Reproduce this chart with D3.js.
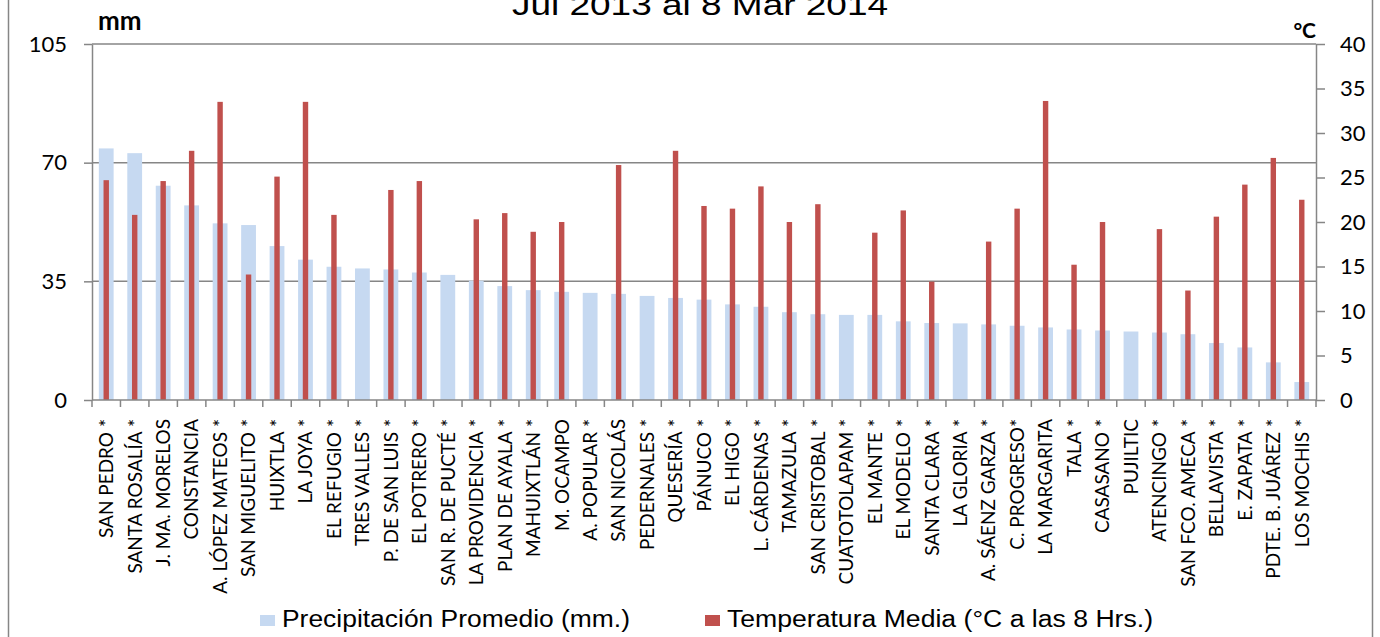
<!DOCTYPE html>
<html>
<head>
<meta charset="utf-8">
<script src="https://cdn.jsdelivr.net/npm/d3@7"></script>
<style>
  body { margin: 0; background: #fff; }
  svg { display: block; }
</style>
</head>
<body>
<script>
var w = 1380;
var h = 637;

var estaciones = ["SAN PEDRO *", "SANTA ROSALÍA *", "J. MA. MORELOS", "CONSTANCIA", "A. LÓPEZ MATEOS *",
  "SAN MIGUELITO *", "HUIXTLA *", "LA JOYA *", "EL REFUGIO *", "TRES VALLES *", "P. DE SAN LUIS *",
  "EL POTRERO *", "SAN R. DE PUCTÉ *", "LA PROVIDENCIA *", "PLAN DE AYALA *", "MAHUIXTLÁN *",
  "M. OCAMPO", "A. POPULAR *", "SAN NICOLÁS", "PEDERNALES *", "QUESERÍA *", "PÁNUCO *", "EL HIGO *",
  "L. CÁRDENAS *", "TAMAZULA *", "SAN CRISTOBAL *", "CUATOTOLAPAM *", "EL MANTE *", "EL MODELO *",
  "SANTA CLARA *", "LA GLORIA *", "A. SÁENZ GARZA *", "C. PROGRESO*", "LA MARGARITA", "TALA *",
  "CASASANO *", "PUJILTIC", "ATENCINGO *", "SAN FCO. AMECA *", "BELLAVISTA *", "E. ZAPATA *",
  "PDTE. B. JUÁREZ *", "LOS MOCHIS *"];

// precipitacion promedio (mm)
var precipitacion = [74.2, 72.8, 63.2, 57.4, 52.1, 51.6, 45.4, 41.4, 39.3, 38.8, 38.5,
  37.6, 36.9, 35.2, 33.6, 32.4, 31.9, 31.6, 31.3, 30.7, 30.1, 29.6, 28.2,
  27.5, 25.9, 25.3, 25.1, 25.1, 23.2, 22.7, 22.6, 22.3, 21.9, 21.4, 20.8,
  20.5, 20.2, 19.9, 19.4, 16.8, 15.5, 11.1, 5.3];

// temperatura media a las 8 hrs (null = sin dato)
var temperatura = [24.7, 20.8, 24.6, 28.0, 33.5, 14.1, 25.1, 33.5, 20.8, null, 23.6,
  24.6, null, 20.3, 21.0, 18.9, 20.0, null, 26.4, null, 28.0, 21.8, 21.5,
  24.0, 20.0, 22.0, null, 18.8, 21.3, 13.3, null, 17.8, 21.5, 33.6, 15.2,
  20.0, null, 19.2, 12.3, 20.6, 24.2, 27.2, 22.5];

var ticksMm = [0, 35, 70, 105];
var ticksC = [0, 5, 10, 15, 20, 25, 30, 35, 40];

var mLeft = 92, mRight = 1316, mTop = 44, mBottom = 400;
var colorPrec = "#C6D9F1";
var colorTemp = "#C0504D";
var ejeColor = "#868686";

var svg = d3.select("body").append("svg")
  .attr("width", w)
  .attr("height", h);

// borde del area del grafico
svg.append("rect")
  .attr("x", 8.5).attr("y", -2)
  .attr("width", 1364).attr("height", h + 4)
  .attr("fill", "none")
  .attr("stroke", ejeColor)
  .attr("stroke-width", 1.5);

var xScale = d3.scaleBand()
  .domain(estaciones)
  .range([mLeft, mRight]);

var yMm = d3.scaleLinear().domain([0, 105]).range([mBottom, mTop]);
var yC = d3.scaleLinear().domain([0, 40]).range([mBottom, mTop]);

// lineas de division
svg.append("g")
  .selectAll("line")
  .data(ticksMm.slice(1))
  .enter()
  .append("line")
  .attr("x1", mLeft).attr("x2", mRight)
  .attr("y1", function(d) { return yMm(d); })
  .attr("y2", function(d) { return yMm(d); })
  .attr("stroke", ejeColor)
  .attr("stroke-width", 1.5);

var bw = xScale.bandwidth();

// barras de precipitacion
svg.append("g")
  .selectAll("rect")
  .data(precipitacion)
  .enter()
  .append("rect")
  .attr("x", function(d, i) { return xScale(estaciones[i]) + bw * 0.24; })
  .attr("y", function(d) { return yMm(d); })
  .attr("width", bw * 0.52)
  .attr("height", function(d) { return mBottom - yMm(d); })
  .attr("fill", colorPrec);

// barras de temperatura (solo estaciones con dato)
var datosTemp = temperatura
  .map(function(t, i) { return { estacion: estaciones[i], valor: t }; })
  .filter(function(d) { return d.valor != null; });

svg.append("g")
  .selectAll("rect")
  .data(datosTemp)
  .enter()
  .append("rect")
  .attr("x", function(d) { return xScale(d.estacion) + bw * 0.5 - bw * 0.095; })
  .attr("y", function(d) { return yC(d.valor); })
  .attr("width", bw * 0.19)
  .attr("height", function(d) { return mBottom - yC(d.valor); })
  .attr("fill", colorTemp);

// ejes
function estiloEje(g) {
  g.selectAll("path").attr("stroke", ejeColor).attr("stroke-width", 1.5);
  g.selectAll("line").attr("stroke", ejeColor).attr("stroke-width", 1.5);
  g.selectAll("text")
    .attr("fill", "#000")
    .attr("font-family", "Lato, 'Open Sans', sans-serif");
}

svg.append("g")
  .attr("transform", "translate(" + mLeft + ",0)")
  .call(d3.axisLeft(yMm).tickValues(ticksMm).tickSize(8).tickSizeOuter(0).tickPadding(17))
  .call(estiloEje)
  .selectAll("text").attr("font-size", "22px");

svg.append("g")
  .attr("transform", "translate(" + mRight + ",0)")
  .call(d3.axisRight(yC).tickValues(ticksC).tickSize(9).tickSizeOuter(0).tickPadding(15))
  .call(estiloEje)
  .selectAll("text").attr("font-size", "22px");

// eje x con marcas en los limites de cada categoria
var ejeX = svg.append("g")
  .attr("transform", "translate(0," + mBottom + ")");
ejeX.append("line")
  .attr("x1", mLeft).attr("x2", mRight)
  .attr("stroke", ejeColor).attr("stroke-width", 1.5);
ejeX.selectAll(".marca")
  .data(estaciones)
  .enter()
  .append("line")
  .attr("class", "marca")
  .attr("x1", function(d) { return xScale(d) + bw; })
  .attr("x2", function(d) { return xScale(d) + bw; })
  .attr("y1", 0).attr("y2", 7)
  .attr("stroke", ejeColor).attr("stroke-width", 1.5);
ejeX.append("line")
  .attr("x1", mLeft).attr("x2", mLeft)
  .attr("y1", 0).attr("y2", 7)
  .attr("stroke", ejeColor).attr("stroke-width", 1.5);

ejeX.selectAll("text")
  .data(estaciones)
  .enter()
  .append("text")
  .text(function(d) { return d; })
  .attr("transform", function(d) {
    return "translate(" + (xScale(d) + bw / 2) + ",19) rotate(-90)";
  })
  .attr("text-anchor", "end")
  .attr("dy", "0.36em")
  .attr("font-family", "Lato, 'Open Sans', sans-serif")
  .attr("font-size", "19px")
  .attr("fill", "#000");

// titulos
svg.append("text")
  .text("Jul 2013 al 8 Mar 2014")
  .attr("x", 512).attr("y", 15)
  .attr("textLength", 376)
  .attr("lengthAdjust", "spacingAndGlyphs")
  .attr("font-family", "'Liberation Sans', Arial, sans-serif")
  .attr("font-size", "30px")
  .attr("fill", "#000");

svg.append("text")
  .text("mm")
  .attr("x", 98).attr("y", 30)
  .attr("font-family", "Lato, sans-serif")
  .attr("font-weight", "bold")
  .attr("font-size", "26px")
  .attr("fill", "#000");

svg.append("text")
  .text("°C")
  .attr("x", 1316).attr("y", 38)
  .attr("text-anchor", "end")
  .attr("font-family", "Lato, sans-serif")
  .attr("font-weight", "bold")
  .attr("font-size", "21px")
  .attr("fill", "#000");

// leyenda
var leyenda = [
  { nombre: "Precipitación Promedio (mm.)", color: colorPrec, x: 260, largo: 348 },
  { nombre: "Temperatura Media (°C a las 8 Hrs.)", color: colorTemp, x: 705, largo: 426 }
];
var lg = svg.append("g").selectAll("g")
  .data(leyenda)
  .enter()
  .append("g")
  .attr("transform", function(d) { return "translate(" + d.x + ",615)"; });
lg.append("rect")
  .attr("width", 15).attr("height", 11)
  .attr("fill", function(d) { return d.color; });
lg.append("text")
  .text(function(d) { return d.nombre; })
  .attr("x", 22).attr("y", 12)
  .attr("textLength", function(d) { return d.largo; })
  .attr("lengthAdjust", "spacingAndGlyphs")
  .attr("font-family", "'Liberation Sans', Arial, sans-serif")
  .attr("font-size", "23px")
  .attr("fill", "#000");
</script>
</body>
</html>
